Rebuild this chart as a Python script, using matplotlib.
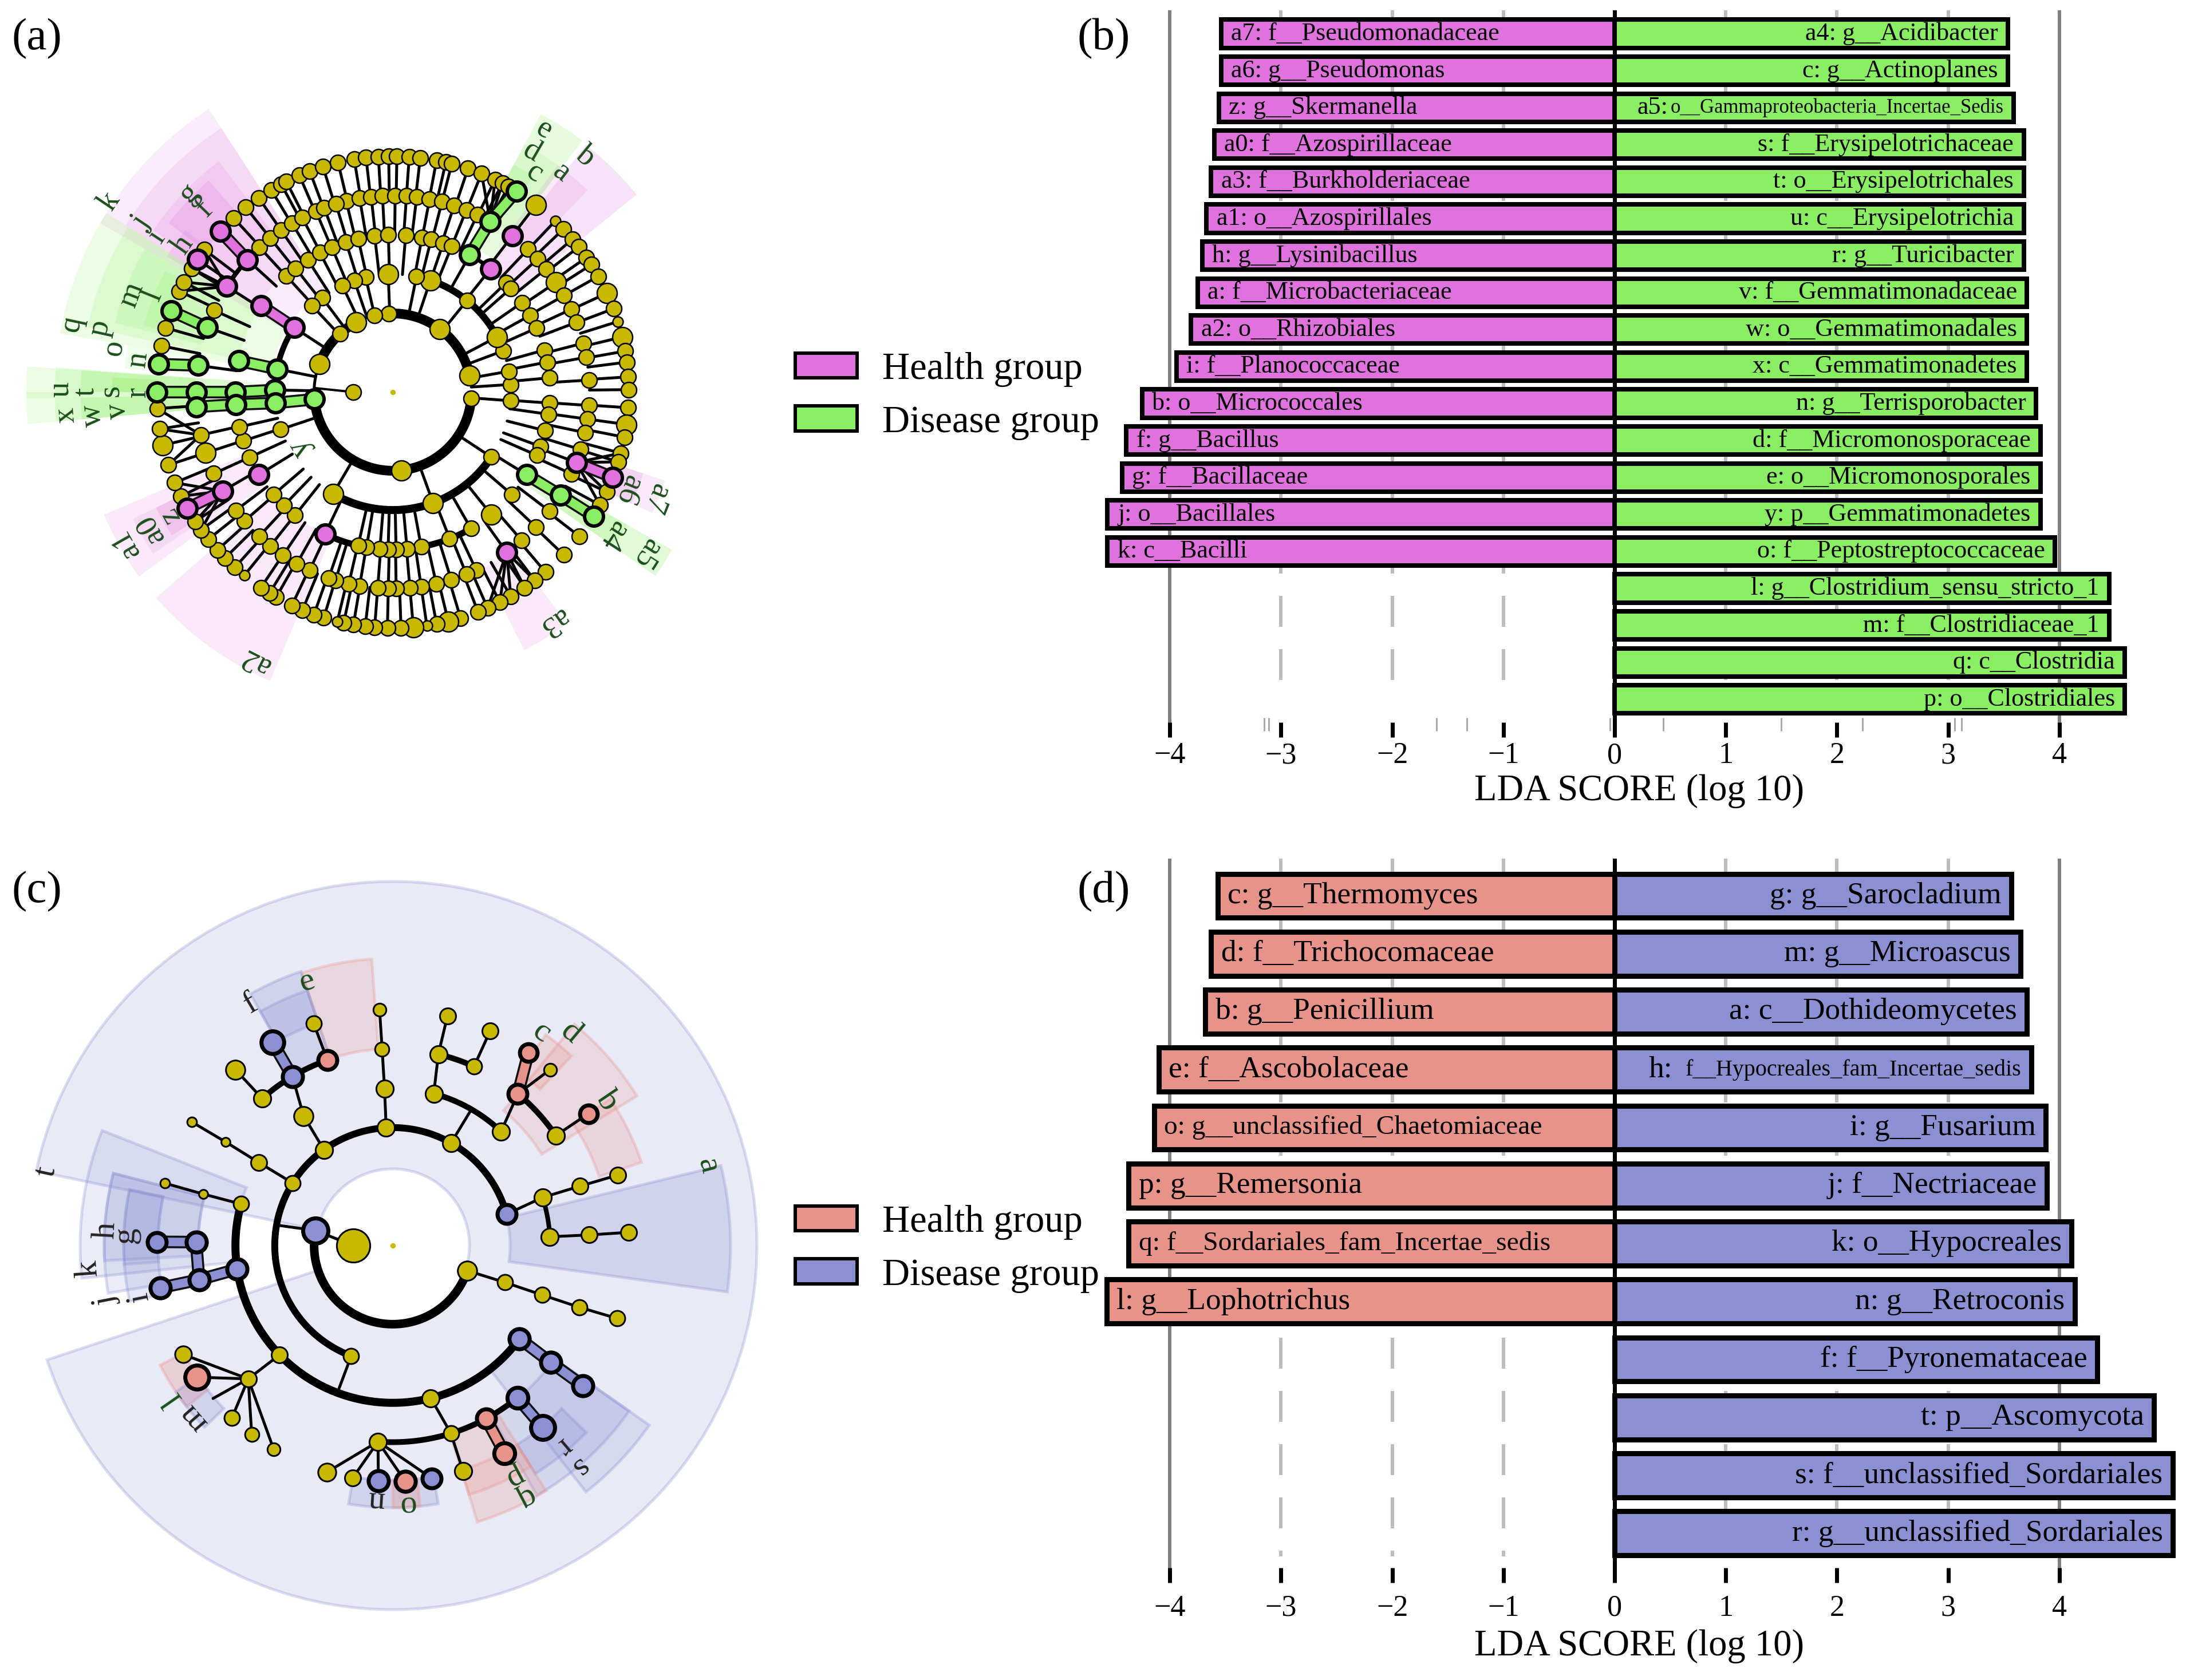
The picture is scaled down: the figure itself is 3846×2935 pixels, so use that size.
import numpy as np
import matplotlib
matplotlib.use("Agg")
from matplotlib import pyplot as plt
from matplotlib.colors import to_rgba
from matplotlib.patches import Patch
import matplotlib.patheffects as pe

plt.rcParams['font.family'] = ['Liberation Serif', 'DejaVu Serif']

W, H = 3846, 2935
DPI = 300
PX = 72.0 / DPI
RING = 68.7

MAGENTA = '#df72dc'
GREEN = '#8aee63'
PINK = '#e8938a'
BLUE = '#8a90d1'
OLIVE = '#c8b800'
DARKGREEN = '#1c4d1c'

# ---------------- panel b values
b_left_labels = ['a7: f__Pseudomonadaceae', 'a6: g__Pseudomonas', 'z: g__Skermanella', 'a0: f__Azospirillaceae',
                 'a3: f__Burkholderiaceae', 'a1: o__Azospirillales', 'h: g__Lysinibacillus', 'a: f__Microbacteriaceae',
                 'a2: o__Rhizobiales', 'i: f__Planococcaceae', 'b: o__Micrococcales', 'f: g__Bacillus',
                 'g: f__Bacillaceae', 'j: o__Bacillales', 'k: c__Bacilli']
b_left_values = [-3.54, -3.54, -3.56, -3.60, -3.63, -3.67, -3.71, -3.75, -3.81, -3.94, -4.25, -4.39, -4.43, -4.56, -4.56]
b_right_labels = ['a4: g__Acidibacter', 'c: g__Actinoplanes', 'o__Gammaproteobacteria_Incertae_Sedis',
                  's: f__Erysipelotrichaceae', 't: o__Erysipelotrichales', 'u: c__Erysipelotrichia', 'r: g__Turicibacter',
                  'v: f__Gemmatimonadaceae', 'w: o__Gemmatimonadales', 'x: c__Gemmatimonadetes', 'n: g__Terrisporobacter',
                  'd: f__Micromonosporaceae', 'e: o__Micromonosporales', 'y: p__Gemmatimonadetes',
                  'o: f__Peptostreptococcaceae', 'l: g__Clostridium_sensu_stricto_1', 'm: f__Clostridiaceae_1',
                  'q: c__Clostridia', 'p: o__Clostridiales']
b_right_values = [3.54, 3.54, 3.59, 3.68, 3.68, 3.68, 3.68, 3.71, 3.71, 3.71, 3.79, 3.83, 3.83, 3.83, 3.96, 4.45, 4.45, 4.59, 4.59]
b_stray_ticks = [-3.15, -3.11, -1.6, -1.33, -0.04, 0.44, 1.5, 2.23, 3.06, 3.12]

# ---------------- panel d values
d_left_labels = ['c: g__Thermomyces', 'd: f__Trichocomaceae', 'b: g__Penicillium', 'e: f__Ascobolaceae',
                 'o: g__unclassified_Chaetomiaceae', 'p: g__Remersonia', 'q: f__Sordariales_fam_Incertae_sedis',
                 'l: g__Lophotrichus']
d_left_values = [-3.57, -3.63, -3.68, -4.10, -4.14, -4.37, -4.37, -4.57]
d_right_labels = ['g: g__Sarocladium', 'm: g__Microascus', 'a: c__Dothideomycetes', 'f__Hypocreales_fam_Incertae_sedis',
                  'i: g__Fusarium', 'j: f__Nectriaceae', 'k: o__Hypocreales', 'n: g__Retroconis', 'f: f__Pyronemataceae',
                  't: p__Ascomycota', 's: f__unclassified_Sordariales', 'r: g__unclassified_Sordariales']
d_right_values = [3.57, 3.65, 3.71, 3.75, 3.88, 3.89, 4.11, 4.14, 4.34, 4.85, 5.02, 5.02]

# ---------------- panel a cladogram, angle of each node on each ring (degrees)
a_ring6 = [99.4, 96.5, 93.5, 91, 89, 86, 83.3, 79.3, 77, 75.5, 71.4, 67.9, 64.3, 62.3, 60.6, 58.4, 52.6, 46.5, 43.7, 40.4,
           38, 34.8, 32.7, 29.4, 24.8, 20.7, 17.4, 13.5, 10, 7.3, 3.7, 0.6, -3.8, -7.9, -11, -15, -17.2, -21.2, -25, -28.6,
           -31.7, -37.7, -43.6, -49.7, -53, -56, -60, -63, -66.3, -68.8, -73.3, -76.4, -79.3, -81.7, -85, -88, -91.3,
           -94.4, -96.7, -99.6, -102, -103.6, -107, -109.5, -112.5, -115.3, -119.6, -121.5, -124, -129, -132, -135.3,
           -138, -141.4, -144.3, -146.8, -150.5, -153.8, -157.4, -162, -167, -171, -176, 180, 173.2, 168.7, 164.2, 159.9,
           154.7, 152.2, 148.4, 145.8, 142.9, 137, 132.4, 128.5, 124.6, 121, 118.2, 116.8, 113.3, 110.6, 107.2, 103.4]
a_ring5 = [103.7, 99.7, 96.3, 93, 89.3, 86, 83, 79.2, 75.5, 71.8, 68, 64.5, 60.3, 52.6, 46.6, 42.6, 38.8, 33.9, 29.4, 24.9,
           20.8, 14.4, 10.2, 3.5, -3.9, -7.9, -11.9, -17, -21, -24.6, -31.6, -37.2, -43.3, -49, -54.6, -64.9, -68, -72.7,
           -77.2, -81.7, -85, -89, -91.3, -94.4, -99.7, -102.9, -106.9, -109, -115, -119.2, -123.9, -128.5, -132.8, -139,
           -143, -149.8, -155.5, -162, -167.4, -175.7, 180, 172.2, 160.8, 155.4, 147.5, 137.7, 132.6, 128.5, 124.6, 120.8,
           117.4, 113, 110.4, 106.8]
a_ring4 = [132.5, 128.1, 122.7, 117.6, 112.8, 107.3, 102.7, 96.6, 91.6, 85.3, 79.3, 75.9, 71.3, 68, 60.7, 51.6, 44, 41.3, 34.7,
           29.2, 24, 15.5, 11, 5.2, -4, -8.1, -14.2, -20.2, -23.7, -31.7, -40.7, -51.2, -60.2, -68.8, -79.6, -84.8, -88.8,
           -91.7, -94.7, -99.6, -102.7, -115.5, -128.4, -133.8, -139.3, -148.3, -155.5, -161.9, -167.2, -175.5, 180, 168.5,
           146.7]
a_ring3 = [103.3, 109, 115.3, 126.8, 133, 146.8, 168.7, 179, -174.7, -161.6, -120.4, -70, -33.4, -4.2, 3.7, 10.2, 20.5, 27.9,
           51, 71.4, 78.4, 92.2]
a_ring2 = [93, 53.3, 103.4, 117.6, 132, 159, -174.8, -83.7, 12.2, -4.5]
a_ring1 = [180]
a_big = [(6, 52.6), (6, 24.8), (6, 13.5), (6, -7.9), (6, -76.4), (6, -85), (6, -167), (5, 33.9), (5, -162), (4, -51.2),
         (3, 27.9), (3, 71.4), (3, 92.2), (3, -120.4), (3, -70), (2, 53.3), (2, -83.7), (2, 159), (2, 117.6), (2, 12.2)]
a_small = [(6, 46.5), (6, 17.4), (6, -129), (6, -81.7), (6, -103.6)]

a_green_nodes = [(6, 58.4), (5, 60.3), (4, 60.7), (6, -31.7), (5, -31.6), (4, -31.7), (6, 180), (5, 180), (4, 180), (3, 179),
                 (5, -175.7), (4, -175.5), (3, -174.7), (2, -174.8), (6, 173.2), (5, 172.2), (6, 159.9), (5, 160.8),
                 (4, 168.5), (3, 168.7)]
a_magenta_nodes = [(5, 52.6), (4, 51.6), (6, -21.2), (5, -21), (5, -54.6), (6, -150.5), (5, -149.8), (4, -148.3), (4, -115.5),
                   (6, 145.8), (5, 147.5), (6, 137), (5, 137.7), (4, 146.7), (3, 146.8)]
a_green_links = [[(4, 60.7), (5, 60.3), (6, 58.4)], [(4, -31.7), (5, -31.6), (6, -31.7)], [(3, 179), (4, 180), (5, 180), (6, 180)],
                 [(2, -174.8), (3, -174.7), (4, -175.5), (5, -175.7)], [(5, 172.2), (6, 173.2)], [(5, 160.8), (6, 159.9)],
                 [(3, 168.7), (4, 168.5)]]
a_magenta_links = [[(5, -21), (6, -21.2)], [(5, -149.8), (6, -150.5)], [(5, 137.7), (6, 137)], [(3, 146.8), (4, 146.7)]]
# parent angle on ring 5, child angles on ring 6
a_fans = [(-54.6, [-53, -56, -60, -63, -66.3]), (-21, [-15, -17.2, -25, -28.6]), (147.5, [142.9, 148.4, 152.2, 154.7]),
          (-149.8, [-144.3, -146.8, -153.8, -157.4]), (60.3, [62.3, 64.3, 67.9]), (-167.4, [-162, -171, -176])]
# ring, from angle, to angle, width in px
a_arcs = [(2, 12.2, 93, 17), (2, 117.6, 159, 17), (2, -174.8, -4.5, 17), (3, 27.9, 71.4, 12), (3, -120.4, -33.4, 14),
          (3, 146.8, 168.7, 10), (4, -115.5, -60.2, 11), (5, 137.7, 147.5, 8), (4, 51.6, 60.7, 7), (2, 159, 180, 5)]
# from angle, to angle, inner r, outer r, colour, alpha
a_wedges = [(123, 150, 215, 590, MAGENTA, 0.13), (123, 148, 280, 550, MAGENTA, 0.14), (127, 146, 345, 505, MAGENTA, 0.15),
            (131, 143, 410, 490, MAGENTA, 0.2), (142, 149, 405, 460, MAGENTA, 0.18),
            (148, 170, 215, 590, GREEN, 0.16), (148, 168, 275, 545, GREEN, 0.16), (150, 166, 345, 500, GREEN, 0.16),
            (152, 165, 410, 450, GREEN, 0.2), (170, 175, 345, 470, GREEN, 0.12),
            (180, 185, 215, 640, GREEN, 0.16), (176, 181, 215, 640, GREEN, 0.16), (181, 185, 275, 590, GREEN, 0.2),
            (175.8, 180, 275, 590, GREEN, 0.2), (181, 185, 345, 545, GREEN, 0.25), (176, 180, 345, 545, GREEN, 0.25),
            (177, 180, 410, 490, GREEN, 0.3),
            (53, 62, 290, 550, GREEN, 0.2), (53, 62, 345, 490, GREEN, 0.16), (57, 62, 410, 450, GREEN, 0.2),
            (39, 52, 275, 548, MAGENTA, 0.2), (46, 54, 345, 490, MAGENTA, 0.15),
            (-35, -29.5, 275, 560, GREEN, 0.25), (-35, -29.5, 345, 470, GREEN, 0.2),
            (-25, -18, 345, 500, MAGENTA, 0.15), (-25, -18, 410, 460, MAGENTA, 0.2),
            (-63, -53, 345, 506, MAGENTA, 0.15), (-139, -113, 275, 548, MAGENTA, 0.15),
            (-157, -144, 275, 548, MAGENTA, 0.15), (-154, -146, 345, 505, MAGENTA, 0.15), (-154, -147, 410, 460, MAGENTA, 0.2)]
# text, angle, radius
a_labels = [('e', 60, 529), ('d', 59.9, 484), ('c', 57, 455), ('b', 50.7, 531), ('a', 52.5, 483), ('k', 146, 596), ('j', 146, 530),
            ('i', 146.6, 494), ('h', 145, 447), ('g', 135.7, 498), ('f', 135.8, 459), ('m', 159.5, 487), ('l', 158, 451),
            ('q', 168, 573), ('p', 167.7, 524), ('o', 171, 493), ('n', 172.7, 448), ('u', 179.5, 580), ('t', 180, 536),
            ('s', 179.7, 492), ('r', 180, 445), ('x', -175.9, 572), ('w', -175.5, 526), ('v', -176, 482), ('y', -148.6, 190),
            ('z', -151, 445), ('a0', -150.5, 486), ('a1', -150.3, 537), ('a2', -117, 528), ('a3', -55, 491), ('a4', -33, 460),
            ('a5', -32.4, 526), ('a6', -22.5, 446), ('a7', -22, 497)]

# ---------------- panel c cladogram, (ring, angle, diameter in px)
c_yellow = [(1, 180, 52), (2, -18.6, 30), (3, 60.4, 27), (3, 93.2, 27), (3, 125.7, 27), (3, 148, 24), (3, -18.2, 24), (3, -110.6, 24),
            (4, 93, 27), (4, 124.5, 30), (4, 148.2, 25), (4, 74.9, 27), (4, 46.5, 27), (4, 17.8, 27), (4, 3.2, 27), (4, -18.3, 24),
            (4, -76, 27), (4, -136, 25), (4, 164.7, 24), (5, 93.1, 22), (5, 131.6, 27), (5, 148.2, 14), (5, 76.6, 27), (5, 65.6, 24),
            (5, 34, 27), (5, 17.6, 25), (5, 3.1, 25), (5, -18.3, 24), (5, -72.8, 24), (5, -94.3, 27), (5, -137.3, 25), (5, 164.8, 14),
            (6, 93.2, 20), (6, 109.6, 24), (6, 131.8, 30), (6, 148.4, 15), (6, 76.6, 25), (6, 65.6, 25), (6, 48.2, 20), (6, 17.4, 25),
            (6, 3.2, 25), (6, -18, 24), (6, -72.7, 27), (6, -106.2, 28), (6, -99.8, 25), (6, -152.5, 26), (6, -133, 24), (6, -126.7, 22),
            (6, -120.3, 20), (6, 164.7, 15)]
c_pink = [(5, 109.4, 30), (5, 50.5, 30), (6, 54.9, 28), (6, 34, 28), (5, -61.7, 30), (6, -61.7, 33), (6, -87, 32), (6, -146.1, 38)]
c_blue = [(2, 169, 40), (3, 15.4, 30), (4, -36.3, 32), (5, -36.5, 32), (6, -36.4, 32), (5, 120.7, 32), (6, 120.6, 36), (5, -50.7, 33),
          (6, -50.5, 38), (6, -93.5, 32), (6, -80.5, 30), (4, -171.4, 32), (5, -170, 32), (6, -169.7, 32), (5, 179, 32), (6, 179.1, 30)]
c_chains = [[(6, 93.2), (5, 93.1), (4, 93), (3, 93.2)], [(6, 109.6), (5, 109.4)], [(5, 120.7), (4, 124.5), (3, 125.7)],
            [(6, 131.8), (5, 131.6)], [(6, 148.4), (5, 148.2), (4, 148.2), (3, 148)], [(6, 76.6), (5, 76.6), (4, 74.9)],
            [(6, 65.6), (5, 65.6)], [(3, 60.4), (4, 60)], [(4, 46.5), (5, 50.5)], [(5, 50.5), (6, 48.2)], [(5, 34), (6, 34)],
            [(3, 15.4), (4, 17.8), (5, 17.6), (6, 17.4)], [(4, 3.2), (5, 3.1), (6, 3.2)], [(2, -18.6), (3, -18.2), (4, -18.3), (5, -18.3), (6, -18)],
            [(4, -76), (5, -72.8), (6, -72.7)], [(5, -94.3), (6, -106.2)], [(5, -94.3), (6, -99.8)], [(5, -94.3), (6, -93.5)],
            [(5, -94.3), (6, -87)], [(5, -94.3), (6, -80.5)], [(3, -110.6), (4, -110.6)], [(2, 169), (3, 170)], [(1, 180), (2, 169)],
            [(4, -136), (5, -137.3)], [(5, -137.3), (6, -152.5)], [(5, -137.3), (6, -146.1)], [(5, -137.3), (6, -139.6)],
            [(5, -137.3), (6, -133)], [(5, -137.3), (6, -126.7)], [(5, -137.3), (6, -120.3)], [(4, 164.7), (5, 164.8), (6, 164.7)]]
c_pink_links = [[(5, 50.5), (6, 54.9)], [(5, -61.7), (6, -61.7)]]
c_blue_links = [[(5, 120.7), (6, 120.6)], [(4, -36.3), (5, -36.5), (6, -36.4)], [(5, -50.7), (6, -50.5)],
                [(4, -171.4), (5, -170), (6, -169.7)], [(5, -170), (5, 179)], [(5, 179), (6, 179.1)]]
c_arcs = [(2, -191, -18.6, 15), (3, 15.4, 148, 12), (3, 148, 249.4, 12), (4, -195.3, -36.3, 14), (4, 46.5, 74.9, 10), (5, 34, 50.5, 10),
          (5, 65.6, 76.6, 10), (5, 109.4, 131.6, 10), (4, 3.2, 17.8, 8), (5, -94.3, -50.7, 10)]
c_wedges = [(-161.7, 168.2, 134, 636, BLUE, 0.18), (-7.9, 13.7, 205, 590, BLUE, 0.25),
            (31.5, 50.6, 305, 500, PINK, 0.2), (46.7, 54, 375, 455, PINK, 0.25), (18.5, 34, 380, 458, PINK, 0.25),
            (94.2, 108.5, 344, 502, PINK, 0.22), (108.5, 119.5, 345, 505, BLUE, 0.25), (108.5, 119.5, 410, 470, BLUE, 0.25),
            (158.4, 186, 275, 546, BLUE, 0.17), (165.5, 189.5, 340, 504, BLUE, 0.17), (165.5, 183, 340, 504, BLUE, 0.17),
            (168, 192, 410, 470, BLUE, 0.2), (168, 184, 410, 470, BLUE, 0.2),
            (-51.9, -35, 275, 547, BLUE, 0.2), (-60, -35, 345, 504, BLUE, 0.22), (-58, -44, 410, 470, BLUE, 0.25),
            (-73, -58, 345, 505, PINK, 0.25), (-73, -58, 410, 455, PINK, 0.2),
            (-152.8, -142, 410, 457, PINK, 0.3), (-146, -136, 410, 457, BLUE, 0.25), (-99.7, -80, 410, 458, BLUE, 0.25), (-90, -84, 410, 458, PINK, 0.3)]
c_labels = [('a', 14.2, 568, DARKGREEN), ('b', 34, 453, DARKGREEN), ('c', 55, 453, DARKGREEN), ('d', 50, 485, DARKGREEN), ('e', 108, 485, DARKGREEN),
            ('f', 120.5, 490, '#222222'), ('g', 177.7, 467, '#222222'), ('h', 177, 502, '#222222'), ('i', -168.5, 452, '#222222'),
            ('j', -169, 510, '#222222'), ('k', -175.8, 534, '#222222'), ('l', -145.2, 468, DARKGREEN), ('m', -139.2, 461, '#222222'),
            ('n', -93.8, 446, '#222222'), ('o', -87, 453, DARKGREEN), ('p', -62.2, 458, DARKGREEN), ('q', -62.3, 498, DARKGREEN),
            ('r', -49.7, 461, '#222222'), ('s', -50, 506, '#222222'), ('t', 168, 619, '#222222')]


def px_axes(left, top, right, bottom, **kw):
    return fig.add_axes([left / W, 1 - bottom / H, (right - left) / W, (bottom - top) / H], **kw)


def clado_axes(cx, cy, rmax=680):
    ax = px_axes(cx - rmax, cy - rmax, cx + rmax, cy + rmax, projection='polar')
    ax.set_ylim(0, rmax)
    ax.axis('off')
    return ax


def draw_wedges(ax, wedges, edge=False):
    for a1, a2, ri, ro, col, al in wedges:
        ax.bar(np.radians((a1 + a2) / 2), ro - ri, width=np.radians(a2 - a1), bottom=ri,
               facecolor=to_rgba(col, al), edgecolor=to_rgba(col, 0.3) if edge else 'none',
               linewidth=5 * PX, zorder=1)


def draw_line(ax, pts, lw, col='k', outline=False):
    th = np.radians([p[1] for p in pts])
    r = [p[0] * RING for p in pts]
    line, = ax.plot(th, r, color=col, lw=lw * PX, zorder=3, solid_capstyle='round')
    if outline:
        line.set_path_effects([pe.Stroke(linewidth=(lw + 7) * PX, foreground='#111111'), pe.Normal()])


def draw_arcs(ax, arcs):
    for ring, a1, a2, lw in arcs:
        th = np.radians(np.linspace(a1, a2, 80))
        ax.plot(th, np.full(th.shape, ring * RING), color='k', lw=lw * PX, zorder=3, solid_capstyle='round')


def draw_nodes(ax, nodes, col, lw, scale=1.0):
    for ring, ang, d in nodes:
        ax.scatter(np.radians(ang), ring * RING, s=(d * scale * PX) ** 2, facecolor=col, edgecolor='k',
                   linewidth=lw * PX, zorder=5)


def draw_labels(ax, labels, size):
    for item in labels:
        col = item[3] if len(item) > 3 else DARKGREEN
        ax.text(np.radians(item[1]), item[2], item[0], rotation=item[1] - 90, rotation_mode='anchor',
                ha='center', va='center', fontsize=size, color=col, zorder=6)


def draw_bars(ax, left_vals, right_vals, left_labels, right_labels, left_col, right_col, height, size, edge_px):
    ax.barh(range(len(left_vals)), left_vals, height=height, color=left_col, edgecolor='k', linewidth=edge_px * PX, zorder=3)
    ax.barh(range(len(right_vals)), right_vals, height=height, color=right_col, edgecolor='k', linewidth=edge_px * PX, zorder=3)
    for i, v in enumerate(left_vals):
        ax.text(v + 0.09, i, left_labels[i], ha='left', va='center', fontsize=size, zorder=4)
    for i, v in enumerate(right_vals):
        ax.text(v - 0.09, i, right_labels[i], ha='right', va='center', fontsize=size, zorder=4)


def style_bar_axes(ax, dash_end, pad, labelpad):
    ax.vlines([-4, 4], ax.get_ylim()[1], ax.get_ylim()[0], color='#808080', lw=6 * PX, zorder=1)
    ax.vlines([-3, -2, -1, 1, 2, 3], ax.get_ylim()[1], dash_end, color='#bdbdbd', lw=6 * PX, zorder=1,
              linestyles=[(0, (9, 6.5))])
    ax.axvline(0, color='k', lw=7 * PX, zorder=5)
    ax.set_xticks([-4, -3, -2, -1, 0, 1, 2, 3, 4])
    ax.set_yticks([])
    ax.tick_params(axis='x', direction='in', length=26 * PX, width=7 * PX, labelsize=12.5, pad=pad, color='k')
    ax.set_xlabel('LDA SCORE (log 10)', fontsize=15.5, labelpad=labelpad)
    for s in ax.spines.values():
        s.set_visible(False)
    ax.patch.set_alpha(0)


fig = plt.figure(figsize=(W / DPI, H / DPI), dpi=DPI, facecolor='white')

# ---------------- (a)
ax_a = clado_axes(686, 685)
draw_wedges(ax_a, a_wedges)
a_rings = {6: a_ring6, 5: a_ring5, 4: a_ring4, 3: a_ring3, 2: a_ring2, 1: a_ring1}
for level in [6, 5, 4, 3]:
    for ang in a_rings[level]:
        draw_line(ax_a, [(level, ang), (level - 1, ang)], 5)
for parent, children in a_fans:
    for ang in children:
        draw_line(ax_a, [(5, parent), (6, ang)], 5)
draw_line(ax_a, [(1, 180), (2, 177)], 4)
draw_arcs(ax_a, a_arcs)
for chain in a_green_links:
    draw_line(ax_a, chain, 15, GREEN, outline=True)
for chain in a_magenta_links:
    draw_line(ax_a, chain, 15, MAGENTA, outline=True)
for level, angles in a_rings.items():
    nodes = []
    for ang in angles:
        d = 35 if (level, ang) in a_big else 18 if (level, ang) in a_small else 27
        nodes.append((level, ang, d))
    draw_nodes(ax_a, nodes, OLIVE, 2.5)
draw_nodes(ax_a, [(lv, an, 33) for lv, an in a_green_nodes], GREEN, 6)
draw_nodes(ax_a, [(lv, an, 33) for lv, an in a_magenta_nodes], MAGENTA, 6)
ax_a.scatter(0, 0, s=1.5, color=OLIVE, zorder=5)
draw_labels(ax_a, a_labels, 13)

# ---------------- (c)
ax_c = clado_axes(686, 2176)
draw_wedges(ax_c, c_wedges, edge=True)
for chain in c_chains:
    draw_line(ax_c, chain, 5)
draw_arcs(ax_c, c_arcs)
for chain in c_pink_links:
    draw_line(ax_c, chain, 15, PINK, outline=True)
for chain in c_blue_links:
    draw_line(ax_c, chain, 15, BLUE, outline=True)
draw_nodes(ax_c, c_yellow, OLIVE, 3, scale=1.12)
draw_nodes(ax_c, c_pink, PINK, 7, scale=1.1)
draw_nodes(ax_c, c_blue, BLUE, 7, scale=1.1)
ax_c.scatter(0, 0, s=1.5, color=OLIVE, zorder=5)
draw_labels(ax_c, c_labels, 14)

# ---------------- (b)
unit = 194.2
zero_x = 2820
ax_b = px_axes(1880, 18, 3846, 1288)
ax_b.set_xlim((1880 - zero_x) / unit, (3846 - zero_x) / unit)
row_b = 64.6
ax_b.set_ylim((1288 - 59) / row_b, (18 - 59) / row_b)
draw_bars(ax_b, b_left_values, b_right_values, b_left_labels, b_right_labels, MAGENTA, GREEN, 0.76, 10.6, 8)
style_bar_axes(ax_b, 17.9, 2, 2)
ax_b.vlines(b_stray_ticks, 18.5, 18.85, color='#aaaaaa', lw=3 * PX, zorder=1)
ax_b.texts[len(b_left_values) + 2].set_fontsize(8.3)
ax_b.text(0.48, 2, 'a5:', ha='right', va='center', fontsize=10.6, zorder=4)

# ---------------- (d)
ax_d = px_axes(1880, 1500, 3846, 2765)
ax_d.set_xlim((1880 - zero_x) / unit, (3846 - zero_x) / unit)
row_d = 101.25
ax_d.set_ylim((2765 - 1565) / row_d, (1500 - 1565) / row_d)
draw_bars(ax_d, d_left_values, d_right_values, d_left_labels, d_right_labels, PINK, BLUE, 0.76, 12.8, 9)
style_bar_axes(ax_d, 11.4, 5, 3)
ax_d.texts[4].set_fontsize(11.4)
ax_d.texts[6].set_fontsize(11.4)
ax_d.texts[len(d_left_values) + 3].set_fontsize(9.65)
ax_d.text(0.52, 3, 'h:', ha='right', va='center', fontsize=12.8, zorder=4)

# ---------------- panel letters, legends
for txt, x, y in [('(a)', 64, 68), ('(b)', 1928, 68), ('(c)', 64, 1558), ('(d)', 1928, 1558)]:
    fig.text(x / W, 1 - y / H, txt, ha='center', va='center', fontsize=19)

for top, col1, col2 in [(615, MAGENTA, GREEN), (2105, PINK, BLUE)]:
    handles = [Patch(facecolor=col1, edgecolor='k', linewidth=6 * PX), Patch(facecolor=col2, edgecolor='k', linewidth=6 * PX)]
    fig.legend(handles, ['Health group', 'Disease group'], loc='upper left', bbox_to_anchor=(1389 / W, 1 - top / H),
               frameon=False, fontsize=16, borderpad=0, borderaxespad=0, handlelength=1.62, handleheight=0.63,
               handletextpad=0.66, labelspacing=0.475)

fig.savefig('out.png', dpi=DPI)
